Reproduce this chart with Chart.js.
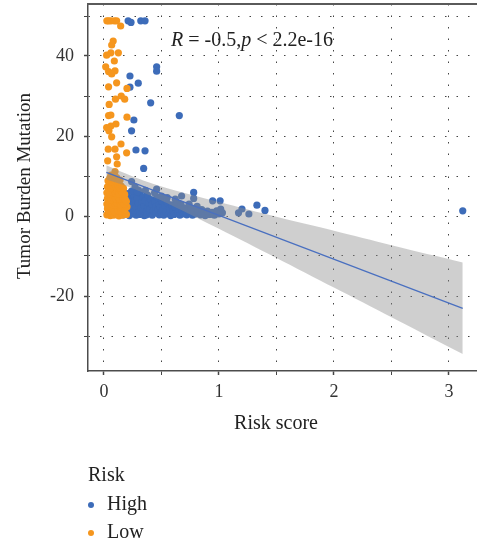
<!DOCTYPE html>
<html>
<head>
<meta charset="utf-8">
<script src="https://cdn.jsdelivr.net/npm/chart.js@4.4.0/dist/chart.umd.min.js"></script>
<style>
  body { margin: 0; background: #fff; }
  canvas { display: block; }
</style>
</head>
<body>
<canvas id="tmb" width="477" height="550"></canvas>
<script>
// grid / tick positions
var xTicks = [0, 0.5, 1, 1.5, 2, 2.5, 3];
var yTicks = [-30, -20, -10, 0, 10, 20, 30, 40, 50];

// [risk score, tumor burden mutation]
var highPts = [
  [0.21, 48.8], [0.235, 48.4], [0.32, 48.8], [0.357, 48.8],
  [0.458, 37.3], [0.458, 36.2], [0.226, 35.0], [0.298, 33.2], [0.226, 32.2],
  [0.406, 28.3], [0.655, 25.1], [0.26, 24.0], [0.24, 21.3],
  [0.278, 16.5], [0.357, 16.3], [0.345, 11.9],
  [0.24, 8.6], [0.27, 7.3], [0.3, 6.5], [0.458, 6.7],
  [0.78, 5.9], [0.675, 5.0], [0.78, 4.4], [0.945, 3.8], [1.01, 3.8],
  [1.015, 1.7], [1.03, 0.8], [1.17, 0.8], [1.2, 1.75], [1.26, 0.5],
  [1.33, 2.7], [1.4, 1.4], [3.12, 1.3],
  [0.17, 0.3], [0.18, 1.5], [0.19, 3.2], [0.2, 0.8], [0.21, 2.4], [0.22, 4.6],
  [0.22, 0.1], [0.23, 1.7], [0.24, 3.5], [0.25, 0.5], [0.25, 2.8], [0.26, 5.3],
  [0.27, 1.2], [0.27, 3.9], [0.28, 0.2], [0.28, 2.2], [0.29, 4.4], [0.3, 1.0],
  [0.3, 3.1], [0.31, 0.4], [0.31, 5.8], [0.32, 2.0], [0.33, 3.6], [0.33, 0.7],
  [0.34, 1.5], [0.34, 4.7], [0.35, 0.1], [0.35, 2.7], [0.36, 3.9], [0.37, 1.1],
  [0.37, 0.3], [0.38, 2.3], [0.38, 5.2], [0.39, 3.3], [0.4, 0.6], [0.4, 1.8],
  [0.41, 4.1], [0.42, 2.9], [0.42, 0.2], [0.43, 1.3], [0.44, 3.6], [0.45, 0.8],
  [0.45, 2.2], [0.46, 4.8], [0.47, 1.6], [0.48, 0.3], [0.48, 3.0], [0.49, 2.1],
  [0.5, 0.9], [0.5, 3.8], [0.51, 1.4], [0.52, 0.2], [0.53, 2.6], [0.54, 1.0],
  [0.55, 3.3], [0.56, 0.5], [0.57, 1.9], [0.58, 0.1], [0.59, 2.8], [0.6, 1.2],
  [0.61, 0.4], [0.62, 2.2], [0.63, 3.5], [0.64, 0.8], [0.65, 1.6], [0.66, 0.2],
  [0.67, 2.9], [0.68, 1.1], [0.69, 0.5], [0.7, 2.0], [0.71, 0.9], [0.72, 0.3],
  [0.73, 1.5], [0.74, 3.0], [0.75, 0.6], [0.76, 1.9], [0.77, 0.2], [0.78, 1.1],
  [0.8, 0.5], [0.81, 2.4], [0.82, 0.9], [0.84, 0.3], [0.85, 1.6], [0.87, 0.7],
  [0.88, 0.1], [0.9, 1.2], [0.92, 0.4], [0.94, 0.9], [0.96, 0.2], [0.98, 1.3],
  [1.0, 0.5], [0.2, 5.6], [0.24, 6.2], [0.29, 6.0], [0.36, 6.4], [0.5, 5.0],
  [0.55, 4.6], [0.44, 5.8], [0.62, 4.2]
];

var lowPts = [
  [0.025, 48.8], [0.04, 48.8], [0.06, 48.8], [0.09, 48.8], [0.11, 48.8], [0.145, 47.5],
  [0.08, 43.75], [0.067, 42.75], [0.06, 40.8], [0.023, 40.2], [0.125, 40.8], [0.09, 38.75],
  [0.015, 37.3], [0.04, 36.1], [0.096, 36.3], [0.067, 35.5], [0.11, 33.3], [0.04, 32.3],
  [0.2, 31.9], [0.15, 30.0], [0.1, 29.2], [0.18, 29.2], [0.045, 27.9],
  [0.04, 25.1], [0.06, 25.25], [0.2, 24.7], [0.023, 22.1], [0.06, 22.5], [0.104, 23.0],
  [0.043, 21.3], [0.067, 19.8], [0.148, 18.0], [0.037, 16.7], [0.096, 16.7],
  [0.197, 15.8], [0.11, 14.8], [0.032, 13.8], [0.115, 13.0], [0.096, 11.1],
  [0.025, 0.3], [0.04, 0.9], [0.055, 0.1], [0.07, 0.6], [0.085, 0.2], [0.1, 0.8],
  [0.115, 0.4], [0.13, 0.0], [0.145, 0.7], [0.16, 0.2], [0.175, 0.9], [0.195, 0.4],
  [0.03, 1.8], [0.045, 1.3], [0.06, 2.2], [0.075, 1.5], [0.09, 1.1], [0.105, 2.0],
  [0.12, 1.4], [0.135, 2.4], [0.15, 1.2], [0.165, 1.9], [0.18, 1.5], [0.2, 2.3],
  [0.025, 3.0], [0.04, 2.6], [0.055, 3.4], [0.07, 2.9], [0.085, 3.7], [0.1, 2.7],
  [0.115, 3.2], [0.13, 3.8], [0.145, 2.8], [0.16, 3.5], [0.175, 3.0], [0.195, 3.6],
  [0.03, 4.4], [0.045, 4.9], [0.06, 4.1], [0.075, 4.6], [0.09, 5.2], [0.105, 4.3],
  [0.12, 4.8], [0.135, 4.2], [0.15, 5.0], [0.165, 4.5], [0.185, 4.1],
  [0.025, 5.8], [0.04, 6.3], [0.055, 5.6], [0.07, 6.0], [0.085, 6.6], [0.1, 5.7],
  [0.115, 6.2], [0.13, 5.5], [0.145, 6.4], [0.16, 5.9], [0.18, 5.4],
  [0.03, 7.3], [0.045, 7.8], [0.06, 7.1], [0.075, 7.6], [0.09, 8.1], [0.105, 7.2],
  [0.12, 7.7], [0.135, 7.0], [0.15, 7.5], [0.17, 6.9],
  [0.035, 8.8], [0.05, 9.4], [0.065, 8.6], [0.08, 9.2], [0.095, 8.9], [0.11, 9.6],
  [0.125, 8.5], [0.14, 9.0], [0.06, 10.2], [0.09, 10.0]
];

// linear fit and its confidence band
var fitX = [0.02, 3.12];
var fitY = [10.9, -23.1];
var bandX = [0.02, 0.25, 0.5, 1, 1.5, 2, 2.5, 3.12];
var bandUpper = [12.7, 9.9, 7.4, 3.5, -0.2, -3.7, -7.3, -11.6];
var bandLower = [9.1, 6.9, 3.9, -3.2, -10.5, -17.9, -25.3, -34.5];

var corrR = '-0.5';
var corrP = '2.2e-16';

var BLUE = '#3d6cb9';
var ORANGE = '#f5961e';
var SERIF = '"Liberation Serif", "Times New Roman", serif';

function pairs(list) {
  return list.map(function(p) { return {x: p[0], y: p[1]}; });
}
function zipXY(xs, ys) {
  return xs.map(function(x, i) { return {x: x, y: ys[i]}; });
}

var textPlugin = {
  id: 'textPlugin',
  afterDraw: function(chart) {
    var ctx = chart.ctx;
    var area = chart.chartArea;
    ctx.save();

    // top frame line
    ctx.strokeStyle = '#5a5a5a';
    ctx.lineWidth = 2;
    ctx.beginPath();
    ctx.moveTo(area.left - 1, area.top);
    ctx.lineTo(chart.width, area.top);
    ctx.stroke();

    ctx.fillStyle = '#222';
    ctx.textBaseline = 'middle';

    // axis titles
    ctx.font = '20px ' + SERIF;
    ctx.textAlign = 'center';
    ctx.fillText('Risk score', 276, 424);
    ctx.save();
    ctx.translate(25, 186);
    ctx.rotate(-Math.PI / 2);
    ctx.font = '19px ' + SERIF;
    ctx.fillText('Tumor Burden Mutation', 0, 0);
    ctx.restore();

    // correlation label
    ctx.textAlign = 'left';
    ctx.textBaseline = 'alphabetic';
    var parts = [
      ['italic', 'R'], ['normal', ' = ' + corrR + ','], ['italic', 'p'], ['normal', ' < ' + corrP]
    ];
    var x = 171;
    parts.forEach(function(p) {
      ctx.font = (p[0] === 'italic' ? 'italic ' : '') + '20px ' + SERIF;
      ctx.fillText(p[1], x, 46);
      x += ctx.measureText(p[1]).width;
    });

    // legend
    ctx.textBaseline = 'middle';
    ctx.font = '20px ' + SERIF;
    ctx.fillText('Risk', 88, 476);
    [['High', BLUE, 505], ['Low', ORANGE, 533]].forEach(function(item) {
      ctx.fillStyle = item[1];
      ctx.beginPath();
      ctx.arc(91, item[2], 3, 0, Math.PI * 2);
      ctx.fill();
      ctx.fillStyle = '#222';
      ctx.fillText(item[0], 107, item[2]);
    });
    ctx.restore();
  }
};

function fixedAxis(size, horizontal) {
  return function(scale) {
    if (horizontal) scale.height = size; else scale.width = size;
    scale.paddingTop = 0; scale.paddingBottom = 0;
    scale.paddingLeft = 0; scale.paddingRight = 0;
  };
}

var ctx = document.getElementById('tmb').getContext('2d');
var chart = new Chart(ctx, {
  type: 'scatter',
  data: {
    datasets: [{
      data: zipXY(fitX, fitY),
      showLine: true,
      pointRadius: 0,
      borderColor: '#4a70c0',
      borderWidth: 1.3,
      order: 0
    }, {
      data: zipXY(bandX, bandUpper),
      showLine: true,
      pointRadius: 0,
      borderWidth: 0,
      borderColor: 'rgba(0,0,0,0)',
      backgroundColor: 'rgba(140,140,140,0.42)',
      fill: '+1',
      tension: 0.3,
      order: 1
    }, {
      data: zipXY(bandX, bandLower),
      showLine: true,
      pointRadius: 0,
      borderWidth: 0,
      borderColor: 'rgba(0,0,0,0)',
      tension: 0.3,
      order: 1
    }, {
      label: 'Low',
      data: pairs(lowPts),
      pointRadius: 3.6,
      borderWidth: 0,
      backgroundColor: ORANGE,
      order: 2
    }, {
      label: 'High',
      data: pairs(highPts),
      pointRadius: 3.6,
      borderWidth: 0,
      backgroundColor: BLUE,
      order: 3
    }]
  },
  options: {
    responsive: false,
    animation: false,
    devicePixelRatio: 1,
    layout: { autoPadding: false, padding: { top: 4, left: 0, right: 0, bottom: 0 } },
    plugins: {
      legend: { display: false },
      tooltip: { enabled: false }
    },
    scales: {
      x: {
        type: 'linear',
        min: -0.139,
        max: 3.244,
        afterBuildTicks: function(scale) {
          scale.ticks = xTicks.map(function(v) { return {value: v}; });
        },
        afterFit: fixedAxis(179, true),
        ticks: {
          padding: 6,
          color: '#333',
          font: { family: SERIF, size: 18 },
          callback: function(v) { return Number.isInteger(v) ? String(v) : ''; }
        },
        grid: {
          color: '#444',
          lineWidth: 1,
          tickLength: 4,
          tickColor: '#444',
          tickWidth: function(c) { return Number.isInteger(c.tick.value) ? 1.5 : 1; }
        },
        border: { color: '#4d4d4d', width: 1.5, dash: [1.5, 10] }
      },
      y: {
        type: 'linear',
        min: -38.75,
        max: 53,
        afterBuildTicks: function(scale) {
          scale.ticks = yTicks.map(function(v) { return {value: v}; });
        },
        afterFit: fixedAxis(88, false),
        ticks: {
          padding: 10,
          color: '#333',
          font: { family: SERIF, size: 18 },
          callback: function(v) { return (v % 20 === 0 && v < 50) ? String(v) : ''; }
        },
        grid: {
          color: '#444',
          lineWidth: 1,
          tickLength: 4,
          tickColor: '#444',
          tickWidth: function(c) { return c.tick.value % 20 === 0 ? 1.5 : 1; }
        },
        border: { color: '#4d4d4d', width: 1.5, dash: [1.5, 10] }
      }
    }
  },
  plugins: [textPlugin]
});
</script>
</body>
</html>
